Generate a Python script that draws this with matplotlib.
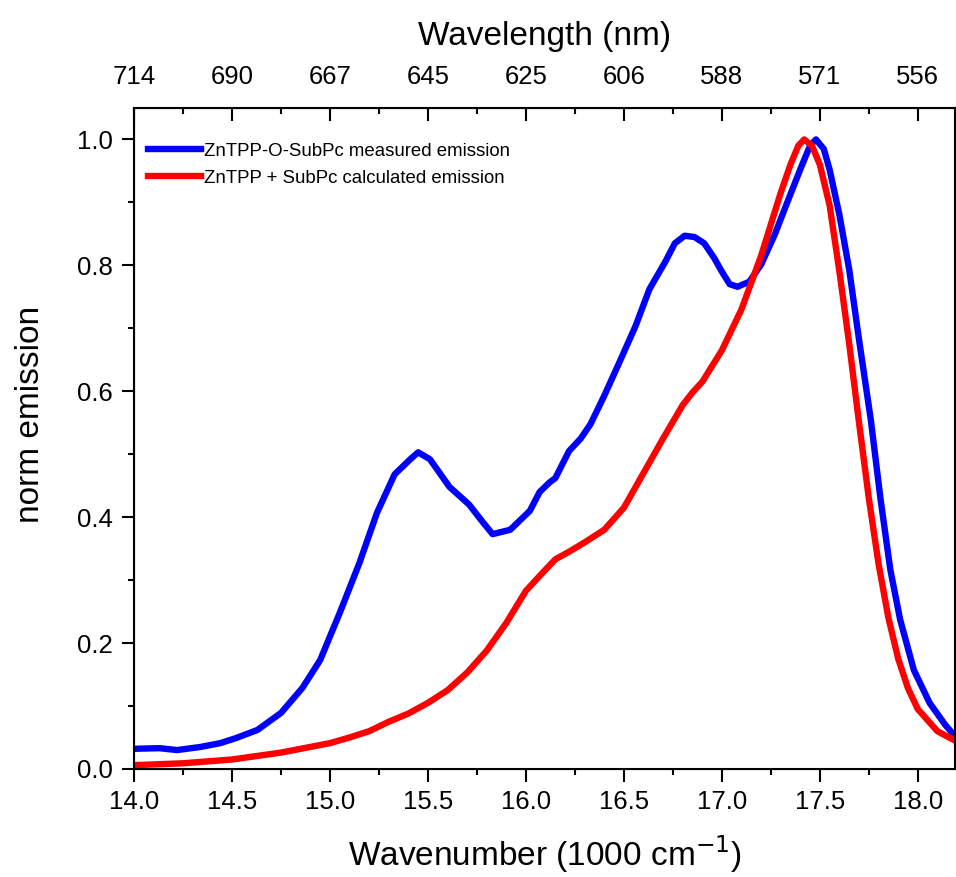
import matplotlib
matplotlib.use("Agg")
import matplotlib.pyplot as plt
from matplotlib.ticker import MultipleLocator

plt.rcParams['font.family'] = ['Liberation Sans', 'DejaVu Sans']

# wavenumber (1000 cm-1) / normalised emission
blue_x = [14.0, 14.13, 14.22, 14.34, 14.44, 14.52, 14.63, 14.75, 14.86, 14.95,
          15.05, 15.15, 15.24, 15.33, 15.41, 15.45, 15.51, 15.56, 15.61, 15.71,
          15.78, 15.83, 15.92, 16.02, 16.07, 16.12, 16.15, 16.22, 16.28, 16.33,
          16.40, 16.48, 16.56, 16.63, 16.71, 16.76, 16.81, 16.86, 16.91, 16.96,
          17.00, 17.04, 17.08, 17.14, 17.20, 17.27, 17.35, 17.41, 17.45, 17.48,
          17.52, 17.55, 17.60, 17.65, 17.70, 17.76, 17.81, 17.86, 17.91, 17.98,
          18.06, 18.14, 18.19]
blue_y = [0.032, 0.033, 0.030, 0.035, 0.041, 0.049, 0.062, 0.089, 0.129, 0.173,
          0.248, 0.327, 0.407, 0.468, 0.492, 0.503, 0.492, 0.470, 0.448, 0.420,
          0.392, 0.373, 0.380, 0.410, 0.440, 0.455, 0.462, 0.505, 0.525, 0.548,
          0.593, 0.648, 0.704, 0.762, 0.805, 0.835, 0.847, 0.845, 0.835, 0.812,
          0.790, 0.770, 0.766, 0.774, 0.801, 0.849, 0.913, 0.960, 0.990, 1.000,
          0.985, 0.952, 0.880, 0.793, 0.682, 0.555, 0.428, 0.316, 0.237, 0.157,
          0.105, 0.070, 0.052]

red_x = [14.0, 14.25, 14.5, 14.75, 15.0, 15.1, 15.2, 15.3, 15.4, 15.5,
         15.6, 15.7, 15.8, 15.9, 16.0, 16.08, 16.15, 16.22, 16.3, 16.4,
         16.5, 16.6, 16.7, 16.8, 16.85, 16.9, 17.0, 17.1, 17.2, 17.3,
         17.35, 17.39, 17.42, 17.46, 17.5, 17.55, 17.6, 17.65, 17.7, 17.75,
         17.8, 17.85, 17.9, 17.95, 18.0, 18.1, 18.19]
red_y = [0.006, 0.009, 0.015, 0.026, 0.041, 0.050, 0.060, 0.075, 0.088, 0.105,
         0.125, 0.153, 0.188, 0.232, 0.283, 0.310, 0.333, 0.345, 0.360, 0.380,
         0.415, 0.470, 0.525, 0.578, 0.598, 0.615, 0.665, 0.730, 0.815, 0.915,
         0.960, 0.990, 1.000, 0.990, 0.960, 0.895, 0.790, 0.675, 0.550, 0.430,
         0.325, 0.240, 0.175, 0.128, 0.095, 0.060, 0.045]

bottom_ticks = [14.0, 14.5, 15.0, 15.5, 16.0, 16.5, 17.0, 17.5, 18.0]
top_labels = ['714', '690', '667', '645', '625', '606', '588', '571', '556']

fig = plt.figure(figsize=(9.56, 8.77), dpi=100)
ax = fig.add_axes([0.1402, 0.1232, 0.8588, 0.7537])

ax.plot(blue_x, blue_y, color='#0000ff', lw=4.6, label='ZnTPP-O-SubPc measured emission')
ax.plot(red_x, red_y, color='#ff0000', lw=4.6, label='ZnTPP + SubPc calculated emission')

ax.set_xlim(14.0, 18.19)
ax.set_ylim(0, 1.05)
ax.set_xticks(bottom_ticks)
ax.xaxis.set_minor_locator(MultipleLocator(0.25))
ax.yaxis.set_major_locator(MultipleLocator(0.2))
ax.yaxis.set_minor_locator(MultipleLocator(0.1))
ax.tick_params(which='both', direction='out', width=1.5, labelsize=18.5, top=False, right=False)
ax.tick_params(which='major', length=9, pad=6)
ax.tick_params(which='minor', length=4.5)
ax.set_xlabel('Wavenumber (1000 cm$^{-1}$)', fontsize=24, labelpad=14)
ax.set_ylabel('norm emission', fontsize=24)
ax.yaxis.set_label_coords(-0.107, 0.536)
for s in ax.spines.values():
    s.set_linewidth(1.5)

top = ax.twiny()
top.set_xlim(ax.get_xlim())
top.set_xticks(bottom_ticks)
top.set_xticklabels(top_labels)
top.xaxis.set_minor_locator(MultipleLocator(0.25))
top.tick_params(which='both', direction='in', width=1.5, labelsize=18.5)
top.tick_params(which='major', length=9, pad=14)
top.tick_params(which='minor', length=4.5)
top.set_xlabel('Wavelength (nm)', fontsize=24, labelpad=14)

ax.legend(loc='upper left', frameon=False, fontsize=13.4, handlelength=2.85,
          handletextpad=0.15, borderaxespad=0.3, labelspacing=0.54,
          bbox_to_anchor=(0.001, 0.967))

fig.savefig('out.png', dpi=100)
